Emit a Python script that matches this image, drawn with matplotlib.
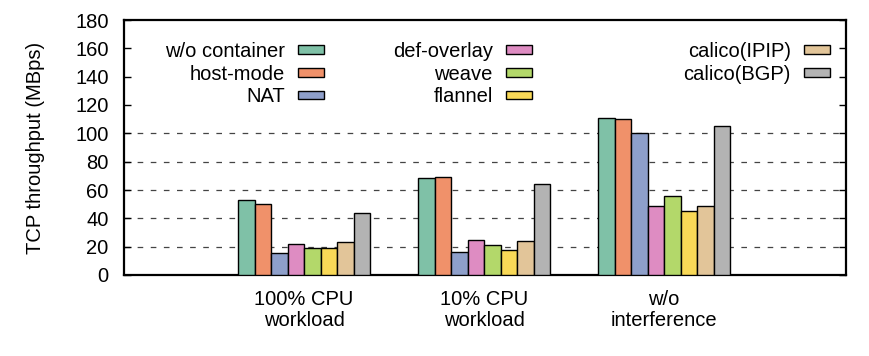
import matplotlib
matplotlib.use("Agg")
import matplotlib.pyplot as plt
from matplotlib.patches import Patch
from matplotlib.legend import Legend
import numpy as np

plt.rcParams['font.family'] = ['Liberation Sans', 'DejaVu Sans']

groups = ["100% CPU\nworkload", "10% CPU\nworkload", "w/o\ninterference"]
series = ["w/o container", "host-mode", "NAT", "def-overlay", "weave",
          "flannel", "calico(IPIP)", "calico(BGP)"]
values = {
    "w/o container": [53, 68.5, 110.5],
    "host-mode":     [50, 69, 110],
    "NAT":           [15.5, 16.5, 100],
    "def-overlay":   [22, 24.5, 48.5],
    "weave":         [19, 21, 56],
    "flannel":       [19, 18, 45.5],
    "calico(IPIP)":  [23, 24, 48.5],
    "calico(BGP)":   [44, 64, 105],
}
colors = ["#7fc1a7", "#f0916a", "#8e9fca", "#de8cc2", "#b3d86a",
          "#f9d957", "#e2c599", "#b3b3b3"]
yticks = [0, 20, 40, 60, 80, 100, 120, 140, 160, 180]

FS = 14.5

fig = plt.figure(figsize=(8.7, 3.56), dpi=100)
ax = fig.add_axes([124/870, 1-275/356, (846-124)/870, (275-20)/356])

x = np.arange(1, len(groups)+1)
n = len(series)
bw = 0.0917
handles = []
for i, s in enumerate(series):
    off = (i - (n-1)/2) * bw
    ax.bar(x + off, values[s], width=bw, color=colors[i], edgecolor="black",
           linewidth=1.0, zorder=3)
    handles.append(Patch(facecolor=colors[i], edgecolor="black", linewidth=1.0, label=s))

ax.set_xlim(0, 4.01)
ax.set_ylim(0, 180)
ax.set_yticks(yticks)
ax.set_yticklabels([str(t) for t in yticks], fontsize=FS)
ax.set_xticks(x)
ax.set_xticklabels(groups, fontsize=FS, linespacing=1.1)
ax.tick_params(axis='x', length=0, pad=11)
ax.tick_params(axis='y', direction='in', length=5, width=1, right=True, pad=11)
for sp in ax.spines.values():
    sp.set_linewidth(1.6)

for t in yticks:
    if 0 < t <= 100:
        ax.axhline(t, color="#444444", linestyle=(0, (4.5, 6)), linewidth=0.9, zorder=1)

ax.set_ylabel("TCP throughput (MBps)", fontsize=FS, labelpad=22)

cols = [(0, 3, 324), (3, 6, 532), (6, 8, 830)]
for a, b, xr in cols:
    lg = Legend(ax, handles[a:b], series[a:b], markerfirst=False, loc="upper right",
                bbox_to_anchor=(xr/870, 1-42/356), bbox_transform=fig.transFigure,
                frameon=False, fontsize=FS, handlelength=1.3, handleheight=0.3,
                handletextpad=0.65, labelspacing=0.18, borderpad=0, borderaxespad=0)
    ax.add_artist(lg)

fig.savefig("out.png", dpi=100)
